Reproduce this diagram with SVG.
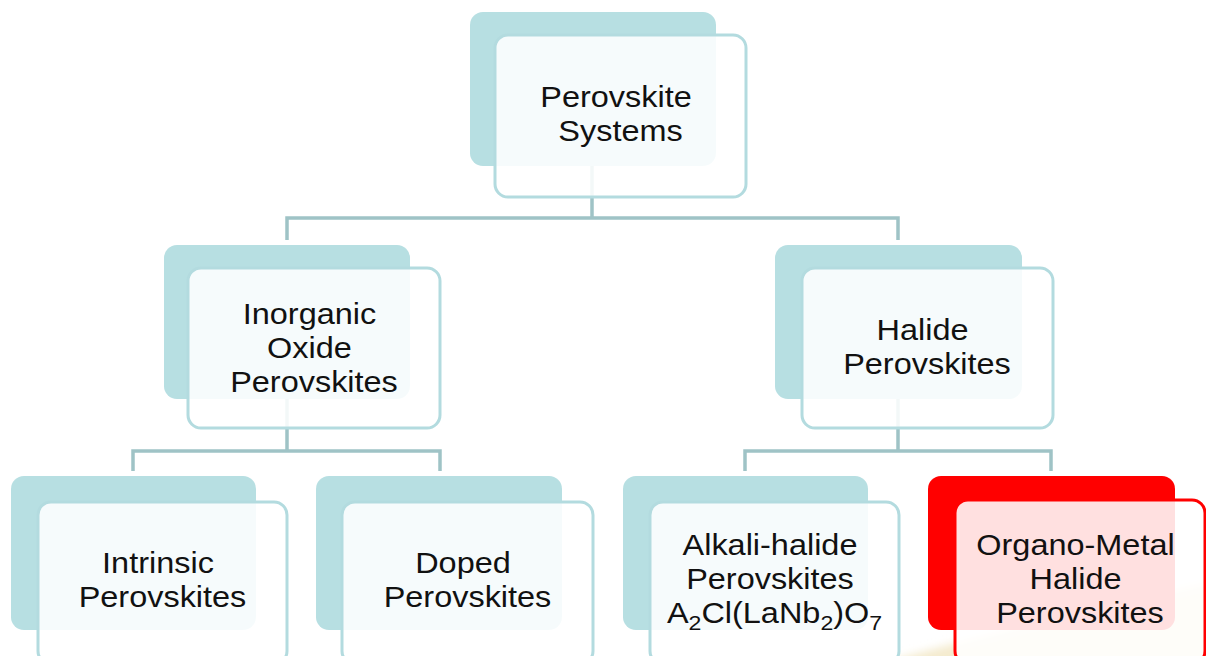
<svg xmlns="http://www.w3.org/2000/svg" width="1206" height="656" viewBox="0 0 1206 656">
  <defs>
    <filter id="soft" x="-20%" y="-20%" width="140%" height="140%">
      <feGaussianBlur stdDeviation="4"/>
    </filter>
    <style>
      .back { fill: #b7dfe2; }
      .front { fill: #ffffff; fill-opacity: 0.88; stroke: #b3dbdf; stroke-width: 3; }
      .back-hot { fill: #ff0000; }
      .front-hot { fill: #ffffff; fill-opacity: 0.88; stroke: #ff0000; stroke-width: 3; }
      .wire { fill: none; stroke: #9fc3c6; stroke-width: 3.5; }
      .lbl { font-family: "Liberation Sans", Arial, sans-serif; font-size: 29.5px; fill: #111111; text-anchor: middle; }
      .sub { font-size: 21px; }
    </style>
  </defs>

  <rect width="1206" height="656" fill="#ffffff"/>

  <!-- warm backdrop glow, lower right -->
  <path d="M 860 670 Q 1000 628 1220 580 L 1220 670 Z" fill="#f4ebcf" filter="url(#soft)"/>

  <!-- connectors -->
  <g id="connectors">
    <path class="wire" d="M 592 166 V 218 M 287 240 V 218 H 898 V 240"/>
    <path class="wire" d="M 287 398 V 451 M 133 471 V 451 H 440 V 471"/>
    <path class="wire" d="M 898 398 V 451 M 745 471 V 451 H 1051 V 471"/>
  </g>

  <g id="node-systems">
    <rect class="back" x="470" y="12" width="246" height="154" rx="13"/>
    <rect class="front" x="495" y="35" width="251" height="162" rx="13"/>
    <text class="lbl" transform="translate(620.5 0) scale(1.1 1)">
      <tspan x="0" y="107">Perovskite</tspan>
      <tspan x="0" y="141">Systems</tspan>
    </text>
  </g>

  <g id="node-oxide">
    <rect class="back" x="164" y="245" width="246" height="154" rx="13"/>
    <rect class="front" x="188" y="268" width="252" height="160" rx="13"/>
    <text class="lbl" transform="translate(314 0) scale(1.1 1)">
      <tspan x="0" y="324">Inorganic</tspan>
      <tspan x="0" y="358">Oxide</tspan>
      <tspan x="0" y="392">Perovskites</tspan>
    </text>
  </g>

  <g id="node-halide">
    <rect class="back" x="775" y="245" width="247" height="154" rx="13"/>
    <rect class="front" x="802" y="268" width="251" height="160" rx="13"/>
    <text class="lbl" transform="translate(927 0) scale(1.1 1)">
      <tspan x="0" y="340">Halide</tspan>
      <tspan x="0" y="374">Perovskites</tspan>
    </text>
  </g>

  <g id="node-intrinsic">
    <rect class="back" x="11" y="476" width="245" height="154" rx="13"/>
    <rect class="front" x="38" y="502" width="249" height="162" rx="13"/>
    <text class="lbl" transform="translate(162.5 0) scale(1.1 1)">
      <tspan x="0" y="573">Intrinsic</tspan>
      <tspan x="0" y="607">Perovskites</tspan>
    </text>
  </g>

  <g id="node-doped">
    <rect class="back" x="316" y="476" width="246" height="154" rx="13"/>
    <rect class="front" x="342" y="502" width="251" height="162" rx="13"/>
    <text class="lbl" transform="translate(467.5 0) scale(1.1 1)">
      <tspan x="0" y="573">Doped</tspan>
      <tspan x="0" y="607">Perovskites</tspan>
    </text>
  </g>

  <g id="node-alkali">
    <rect class="back" x="623" y="476" width="245" height="154" rx="13"/>
    <rect class="front" x="650" y="502" width="249" height="162" rx="13"/>
    <text class="lbl" transform="translate(774.5 0) scale(1.1 1)">
      <tspan x="0" y="555">Alkali-halide</tspan>
      <tspan x="0" y="589">Perovskites</tspan>
      <tspan x="0" y="623">A<tspan class="sub" dy="7">2</tspan><tspan dy="-7">Cl(LaNb</tspan><tspan class="sub" dy="7">2</tspan><tspan dy="-7">)O</tspan><tspan class="sub" dy="7">7</tspan></tspan>
    </text>
  </g>

  <g id="node-organo">
    <rect class="back-hot" x="928" y="476" width="247" height="154" rx="13"/>
    <rect class="front-hot" x="955" y="500" width="250" height="164" rx="13"/>
    <text class="lbl" transform="translate(1080 0) scale(1.1 1)">
      <tspan x="0" y="555">Organo-Metal</tspan>
      <tspan x="0" y="589">Halide</tspan>
      <tspan x="0" y="623">Perovskites</tspan>
    </text>
  </g>
</svg>
